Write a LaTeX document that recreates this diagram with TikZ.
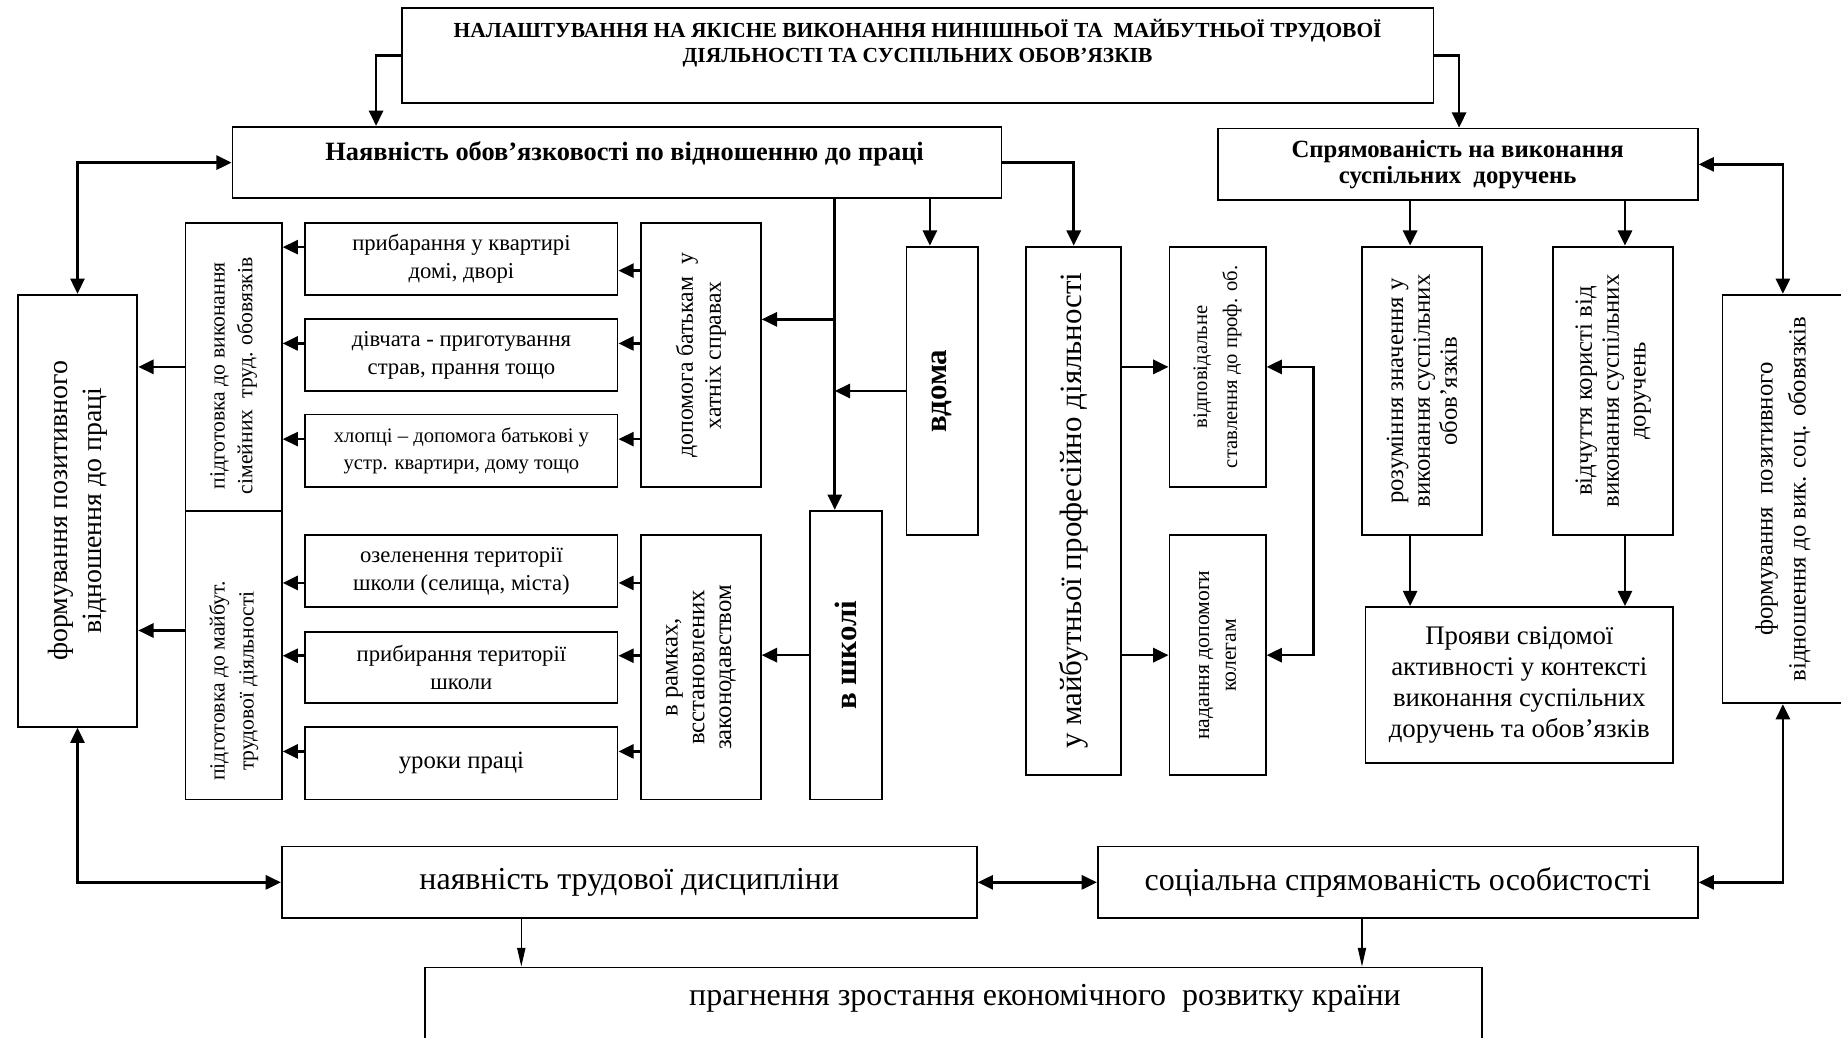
\documentclass[tikz,border=0pt]{standalone}
\usepackage{fontspec}
\setmainfont{Liberation Serif}
\usetikzlibrary{arrows.meta}

\tikzset{
  box/.style={draw, line width=0.9pt, inner sep=2pt, align=center},
  arr/.style={line width=1.3pt, -{Triangle[length=2.6mm,width=2.4mm]}},
  dbl/.style={line width=1.3pt, {Triangle[length=2.6mm,width=2.4mm]}-{Triangle[length=2.6mm,width=2.4mm]}},
  thinarr/.style={line width=0.6pt, -{Triangle[length=3.2mm,width=1.4mm]}},
  up/.style={rotate=90, align=center, inner sep=0pt},
  fnt/.style 2 args={font=\fontsize{#1}{#2}\selectfont},
  fntb/.style 2 args={font=\fontsize{#1}{#2}\selectfont\bfseries},
}

\begin{document}
\begin{tikzpicture}[x=0.02cm, y=-0.02cm]
\useasboundingbox (0,0) rectangle (1568,884);

% top level
\node[box, minimum width=17.58cm, minimum height=1.62cm] (top) at (781.5,47.5) {};
\node[fntb={10.4}{12}, align=center] (top-t) at (781.5,36.5)
  {НАЛАШТУВАННЯ НА ЯКІСНЕ ВИКОНАННЯ НИНІШНЬОЇ ТА \ МАЙБУТНЬОЇ ТРУДОВОЇ\\ДІЯЛЬНОСТІ ТА СУСПІЛЬНИХ ОБОВ’ЯЗКІВ};
\node[box, minimum width=13.1cm, minimum height=1.22cm] (nayav) at (525.5,138.5) {};
\node[fntb={12.8}{14}] (nayav-t) at (532,131) {Наявність обов’язковості по відношенню до праці};
\node[box, fntb={12}{12.5}, minimum width=8.18cm, minimum height=1.22cm] (sprym) at (1241.5,140)
  {Спрямованість на виконання\\суспільних \ доручень};

% side boxes
\node[box, minimum width=2.04cm, minimum height=7.36cm] (formL) at (66,435) {};
\node[up, fnt={13.5}{16.5}] (formL-t) at (formL) {формування позитивного\\відношення до праці};
\node[box, minimum width=2.06cm, minimum height=6.96cm] (formR) at (1518.5,425) {};
\node[up, fnt={12}{16}] (formR-t) at (formR) {формування \ позитивного\\відношення до вик. соц. обовязків};

% left column
\node[box, minimum width=1.64cm, minimum height=4.9cm] (pidA) at (199,312.5) {};
\node[up, fnt={10.5}{13.5}] (pidA-t) at (199,320) {підготовка до виконання\\сімейних \ труд. обовязків};
\node[box, minimum width=1.64cm, minimum height=4.92cm] (pidB) at (199,558) {};
\node[up, fnt={10.5}{14}] (pidB-t) at (199,580) {підготовка до майбут.\\трудової діяльності};

\node[box, fnt={11}{13.5}, minimum width=5.32cm, minimum height=1.22cm] (s1) at (393,220.5) {прибарання у квартирі\\домі, дворі};
\node[box, fnt={11}{13.5}, minimum width=5.32cm, minimum height=1.22cm] (s2) at (393,302.5) {дівчата - приготування\\страв, прання тощо};
\node[box, fnt={10}{13}, minimum width=5.32cm, minimum height=1.24cm] (s3) at (393,384) {хлопці – допомога батькові у\\устр. квартири, дому тощо};
\node[box, fnt={11}{13.5}, minimum width=5.32cm, minimum height=1.22cm] (s4) at (393,486.5) {озеленення території\\школи (селища, міста)};
\node[box, fnt={11}{13.5}, minimum width=5.32cm, minimum height=1.22cm] (s5) at (393,568.5) {прибирання території\\школи};
\node[box, fnt={12}{14}, minimum width=5.32cm, minimum height=1.24cm] (s6) at (393,650) {уроки праці};

\node[box, minimum width=2.04cm, minimum height=4.5cm] (dopom) at (597,302.5) {};
\node[up, fnt={11.5}{13.5}] (dopom-t) at (dopom) {допомога батькам \ у\\хатніх справах};
\node[box, minimum width=2.04cm, minimum height=4.5cm] (ramk) at (597,568.5) {};
\node[up, fnt={12}{13}] (ramk-t) at (ramk) {в рамках,\\всстановлених\\законодавством};

\node[box, minimum width=1.22cm, minimum height=4.92cm] (vdoma) at (802.5,333) {};
\node[up, fntb={15}{17}] (vdoma-t) at (vdoma) {вдома};
\node[box, minimum width=1.22cm, minimum height=4.92cm] (skola) at (720.5,558) {};
\node[up, fntb={15}{17}] (skola-t) at (skola) {в школі};

% middle column
\node[box, minimum width=1.62cm, minimum height=9cm] (maibut) at (914.5,435) {};
\node[up, fnt={15}{17}] (maibut-t) at (maibut) {у майбутньої професійно діяльності};
\node[box, minimum width=1.64cm, minimum height=4.1cm] (vidpov) at (1037,312.5) {};
\node[up, fnt={10}{14.5}] (vidpov-t) at (vidpov) {відповідальне\\ставлення до проф. об.};
\node[box, minimum width=1.64cm, minimum height=4.08cm] (nadan) at (1037,558) {};
\node[up, fnt={10.5}{13}] (nadan-t) at (nadan) {надання допомоги\\колегам};

% right column
\node[box, minimum width=2.04cm, minimum height=4.92cm] (rozum) at (1211,333) {};
\node[up, fnt={12}{13}] (rozum-t) at (rozum) {розуміння значення у\\виконання суспільних\\обов’язків};
\node[box, minimum width=2.04cm, minimum height=4.92cm] (vidch) at (1374,333) {};
\node[up, fnt={12}{13}] (vidch-t) at (vidch) {відчуття користі від\\виконання суспільних\\доручень};
\node[box, fnt={13}{15}, minimum width=5.24cm, minimum height=2.66cm] (proyav) at (1294,583.5)
  {Прояви свідомої\\активності у контексті\\виконання суспільних\\доручень та обов’язків};

% bottom
\node[box, fnt={15.5}{18}, minimum width=11.84cm, minimum height=1.22cm] (disc) at (536,751.5) {наявність трудової дисципліни};
\node[box, fnt={15.5}{18}, minimum width=10.22cm, minimum height=1.22cm] (soc) at (1190.5,751.5) {соціальна спрямованість особистості};
\node[box, minimum width=18cm, minimum height=2.4cm] (pragn) at (812,884) {};
\node[fnt={15.5}{18}] (pragn-t) at (890,850) {прагнення зростання економічного \ розвитку країни};

% connectors
\draw[arr] (top.west) -- ++(-21,0) coordinate (k1) -- (k1 |- nayav.north);
\draw[arr] (top.east) -- ++(21,0) coordinate (k2) -- (k2 |- sprym.north);
\draw[dbl] (nayav.west) -| (formL.north);
\draw[dbl] (sprym.east) -| (formR.north);
\draw[dbl] (formL.south) |- (disc.west);
\draw[dbl] (formR.south) |- (soc.east);
\draw[dbl] (disc.east) -- (soc.west);
\path (disc.south) ++(-92,0) coordinate (d1);
\path (soc.south) ++(-30.5,0) coordinate (d2);
\draw[thinarr] (d1) -- (d1 |- pragn.north);
\draw[thinarr] (d2) -- (d2 |- pragn.north);

\path (nayav.south) ++(185.5,0) coordinate (trunk);
\path (nayav.south) ++(266.5,0) coordinate (v1);
\path (dopom.east) ++(0,-30.5) coordinate (b1);
\draw[arr] (trunk) -- (trunk |- skola.north);
\draw[arr] (trunk |- b1) -- (b1);
\draw[arr] (vdoma.west) -- (vdoma.west -| trunk);
\draw[arr] (v1) -- (v1 |- vdoma.north);
\draw[arr] (skola.west) -- (skola.west -| ramk.east);

\draw[arr] (pidA.west) -- (pidA.west -| formL.east);
\path (pidB.west) ++(0,-21) coordinate (b2);
\draw[arr] (b2) -- (b2 -| formL.east);
\foreach \s/\d/\t in {s1/-10/pidA, s2/-10/pidA, s3/-10/pidA, s4/10/pidB, s5/-10/pidB, s6/-10/pidB}
  \draw[arr] (\s.west) ++(0,\d) coordinate (p) -- (p -| \t.east);
\foreach \s/\d/\t in {s1/10/dopom, s2/-10/dopom, s3/-10/dopom, s4/10/ramk, s5/-10/ramk, s6/-10/ramk}
  \draw[arr] (\s.east) ++(0,\d) coordinate (p) (p -| \t.west) -- (p);

\draw[arr] (nayav.east) -| (maibut.north);
\draw[arr] (vidpov.west -| maibut.east) -- (vidpov.west);
\draw[arr] (nadan.west -| maibut.east) -- (nadan.west);
\draw[dbl] (vidpov.east) -- ++(40,0) |- (nadan.east);

\path (rozum.north) ++(-10,0) coordinate (r1);
\path (vidch.north) ++(10,0) coordinate (r2);
\draw[arr] (r1 |- sprym.south) -- (r1);
\draw[arr] (r2 |- sprym.south) -- (r2);
\draw[arr] (r1 |- rozum.south) -- (r1 |- proyav.north);
\draw[arr] (r2 |- vidch.south) -- (r2 |- proyav.north);
\end{tikzpicture}
\end{document}
